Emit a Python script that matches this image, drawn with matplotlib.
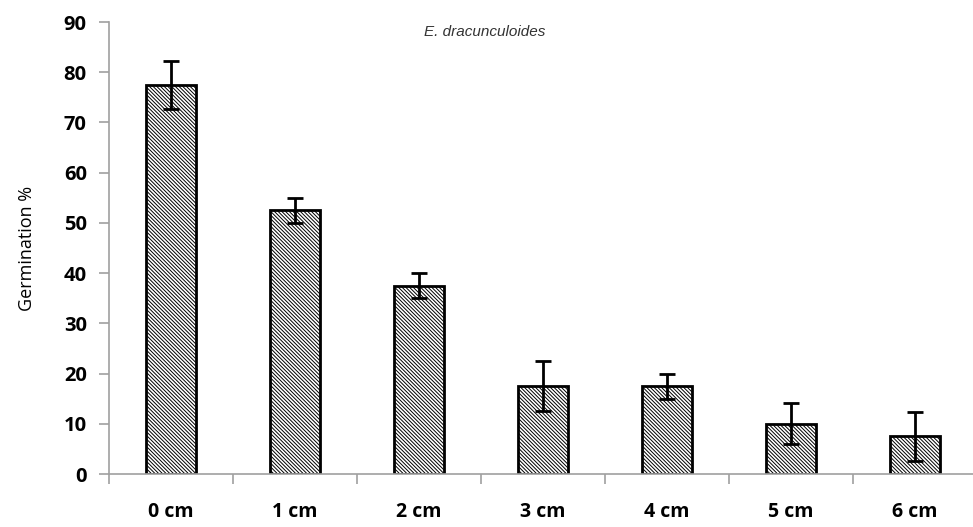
import numpy as np
import matplotlib
matplotlib.use("Agg")
import matplotlib.pyplot as plt

categories = ["0 cm", "1 cm", "2 cm", "3 cm", "4 cm", "5 cm", "6 cm"]
germination = [77.5, 52.5, 37.5, 17.5, 17.5, 10.0, 7.5]
errors = [4.8, 2.5, 2.5, 5.0, 2.5, 4.1, 4.9]
yticks = [0, 10, 20, 30, 40, 50, 60, 70, 80, 90]

W, H = 973, 527
plt.rcParams['hatch.linewidth'] = 0.7
fig = plt.figure(figsize=(W / 100, H / 100), dpi=100)
ax = fig.add_axes([109 / W, 53 / H, 868 / W, 452 / H])

x = np.arange(len(categories))
ax.bar(x, germination, width=0.4, color="white", edgecolor="black",
       linewidth=2, hatch="\\" * 9, zorder=2)
ax.errorbar(x, germination, yerr=errors, fmt="none", ecolor="black",
            elinewidth=2, capsize=6, capthick=2, zorder=3)

ax.set_xlim(-0.5, len(categories) - 0.5)
ax.set_ylim(0, 90)
ax.set_yticks(yticks)
ax.set_yticklabels([str(t) for t in yticks], fontsize=14.5, fontweight="bold",
                   family="Open Sans")
ax.set_xticks(np.arange(len(categories) + 1) - 0.5, minor=False)
ax.set_xticklabels([])
ax.set_xticks(x, minor=True)
ax.set_xticklabels(categories, minor=True, fontsize=14, fontweight="bold",
                   family="Open Sans")
ax.tick_params(axis="x", which="minor", length=0, pad=20)
ax.tick_params(axis="x", which="major", length=7, direction="out",
               color="#a0a0a0", width=1.2)
ax.tick_params(axis="y", length=7, direction="out", color="#a0a0a0",
               width=1.2, pad=9)

for s in ["top", "right"]:
    ax.spines[s].set_visible(False)
for s in ["left", "bottom"]:
    ax.spines[s].set_color("#a0a0a0")
    ax.spines[s].set_linewidth(1.2)

ax.set_ylabel("Germination %", fontsize=13, family="Open Sans", labelpad=20)
fig.text(485 / W, 1 - 32 / H, "E. dracunculoides", fontsize=11,
         style="italic", family="Liberation Sans", ha="center", va="center",
         color="#333333")

fig.savefig("out.png", dpi=100)
